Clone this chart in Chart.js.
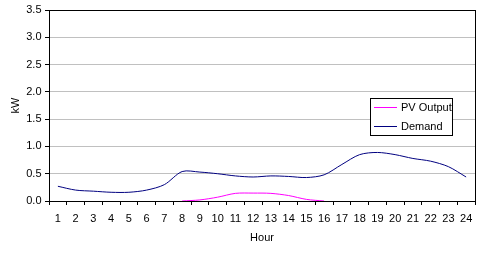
<!DOCTYPE html>
<html>
<head>
<meta charset="utf-8">
<script src="https://cdn.jsdelivr.net/npm/chart.js@4"></script>
<style>
html,body{margin:0;padding:0;background:#fff;}
#wrap{width:503px;height:254px;position:relative;}
</style>
</head>
<body>
<div id="wrap"><canvas id="c" width="503" height="254"></canvas></div>
<script>
const hours = ['1','2','3','4','5','6','7','8','9','10','11','12','13','14','15','16','17','18','19','20','21','22','23','24'];
const pvOutput = [null,null,null,null,null,null,null,0,0.02,0.07,0.14,0.145,0.14,0.1,0.03,0,null,null,null,null,null,null,null,null];
const demand = [0.27,0.2,0.18,0.16,0.16,0.2,0.3,0.54,0.53,0.5,0.46,0.44,0.46,0.45,0.43,0.48,0.67,0.85,0.89,0.85,0.78,0.73,0.63,0.44];
const yMin = 0, yMax = 3.5, yStep = 0.5;
const yTitle = 'kW', xTitle = 'Hour';
const seriesNames = ['PV Output','Demand'];

const FONT = 'Liberation Sans, Arial, sans-serif';

const framePlugin = {
  id: 'frame',
  afterDatasetsDraw(chart) {
    const ctx = chart.ctx, a = chart.chartArea;
    ctx.save();
    ctx.strokeStyle = '#000';
    ctx.lineWidth = 1;
    ctx.strokeRect(Math.round(a.left) + 0.5, Math.round(a.top) + 0.5,
      Math.round(a.right) - Math.round(a.left), Math.round(a.bottom) - Math.round(a.top));
    ctx.restore();
  },
  afterDraw(chart) {
    const ctx = chart.ctx;
    const bx = 370, by = 98, bw = 82, bh = 37;
    ctx.save();
    ctx.fillStyle = '#fff';
    ctx.fillRect(bx, by, bw, bh);
    ctx.strokeStyle = '#000';
    ctx.lineWidth = 1;
    ctx.strokeRect(bx + 0.5, by + 0.5, bw, bh);
    ctx.font = '11px ' + FONT;
    ctx.textBaseline = 'middle';
    ctx.textAlign = 'left';
    chart.data.datasets.forEach((ds, i) => {
      const y = by + 9.5 + i * 19;
      ctx.strokeStyle = ds.borderColor;
      ctx.beginPath();
      ctx.moveTo(bx + 4, y);
      ctx.lineTo(bx + 27, y);
      ctx.stroke();
      ctx.fillStyle = '#000';
      ctx.fillText(ds.label, bx + 31, y);
    });
    ctx.restore();
  }
};

new Chart(document.getElementById('c'), {
  type: 'line',
  data: {
    labels: hours,
    datasets: [
      { label: seriesNames[0], data: pvOutput, borderColor: '#FF00FF', backgroundColor: '#FF00FF', borderWidth: 1, pointRadius: 0, tension: 0.3, fill: false },
      { label: seriesNames[1], data: demand, borderColor: '#000080', backgroundColor: '#000080', borderWidth: 1, pointRadius: 0, tension: 0.3, fill: false }
    ]
  },
  options: {
    responsive: false,
    animation: false,
    devicePixelRatio: 1,
    layout: { padding: { left: 0, top: 9, right: 28, bottom: 0 } },
    plugins: { legend: { display: false }, tooltip: { enabled: false } },
    scales: {
      x: {
        offset: true,
        grid: { display: true, drawOnChartArea: false, offset: true, tickLength: 4, tickColor: '#000', color: '#000' },
        border: { color: '#000' },
        ticks: { color: '#000', font: { family: FONT, size: 11 }, padding: 7, maxRotation: 0, autoSkip: false },
        title: { display: true, text: xTitle, color: '#000', font: { family: FONT, size: 11 }, padding: { top: 0, bottom: 9 } },
        afterFit(s) { s.height = 53; }
      },
      y: {
        min: yMin, max: yMax,
        grid: { color: '#C0C0C0', tickColor: '#000', tickLength: 4 },
        border: { color: '#000' },
        ticks: { stepSize: yStep, color: '#000', font: { family: FONT, size: 11 }, padding: 3.5, callback: v => Number(v).toFixed(1) },
        title: { display: true, text: yTitle, color: '#000', font: { family: FONT, size: 11 }, padding: { top: 9, bottom: 0 } },
        afterFit(s) { s.width = 49; }
      }
    }
  },
  plugins: [framePlugin]
});
</script>
</body>
</html>
